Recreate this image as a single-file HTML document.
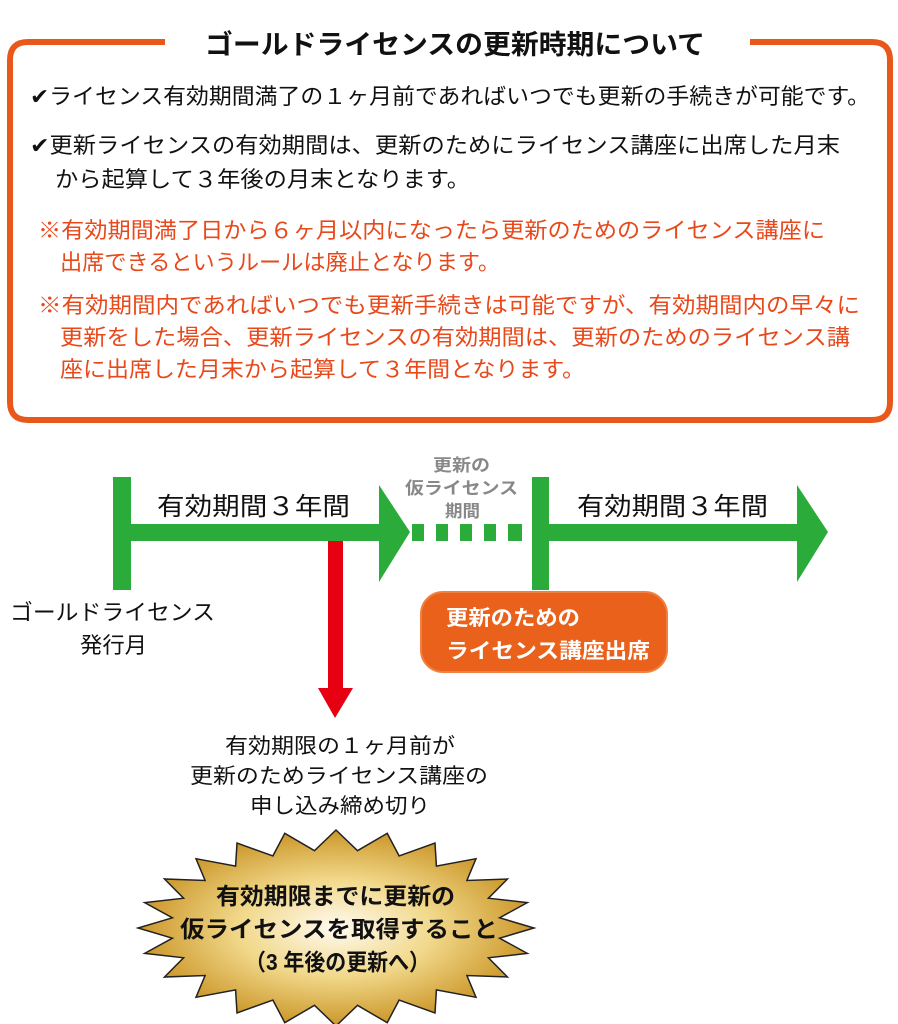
<!DOCTYPE html>
<html><head><meta charset="utf-8"><style>
html,body{margin:0;padding:0;background:#fff}
svg{display:block}
text{font-family:"Liberation Sans","Noto Sans CJK JP",sans-serif}
</style></head><body>
<svg width="898" height="1024" viewBox="0 0 898 1024" xmlns="http://www.w3.org/2000/svg">
<defs>
<radialGradient id="g" cx="50%" cy="50%" r="55%">
<stop offset="0" stop-color="#fffaf0"/>
<stop offset="0.45" stop-color="#f1d88a"/>
<stop offset="1" stop-color="#c48a16"/>
</radialGradient>
</defs>
<path d="M165 42 H28 Q10 42 10 60 V402 Q10 420 28 420 H872 Q890 420 890 402 V60 Q890 42 872 42 H750" fill="none" stroke="#e8581a" stroke-width="6"/>
<text x="205" y="54" font-size="27" font-weight="bold" fill="#111" textLength="500" lengthAdjust="spacingAndGlyphs">ゴールドライセンスの更新時期について</text>
<g font-size="22" fill="#111" lengthAdjust="spacingAndGlyphs">
<text x="30" y="104" textLength="840" lengthAdjust="spacingAndGlyphs">✔ライセンス有効期間満了の１ヶ月前であればいつでも更新の手続きが可能です。</text>
<text x="30" y="153" textLength="810" lengthAdjust="spacingAndGlyphs">✔更新ライセンスの有効期間は、更新のためにライセンス講座に出席した月末</text>
<text x="55" y="187" textLength="415" lengthAdjust="spacingAndGlyphs">から起算して３年後の月末となります。</text>
</g>
<g font-size="22" fill="#e8481a">
<text x="38" y="238" textLength="787" lengthAdjust="spacingAndGlyphs">※有効期間満了日から６ヶ月以内になったら更新のためのライセンス講座に</text>
<text x="60" y="270" textLength="440" lengthAdjust="spacingAndGlyphs">出席できるというルールは廃止となります。</text>
<text x="38" y="313" textLength="822" lengthAdjust="spacingAndGlyphs">※有効期間内であればいつでも更新手続きは可能ですが、有効期間内の早々に</text>
<text x="60" y="345" textLength="790" lengthAdjust="spacingAndGlyphs">更新をした場合、更新ライセンスの有効期間は、更新のためのライセンス講</text>
<text x="60" y="377" textLength="525" lengthAdjust="spacingAndGlyphs">座に出席した月末から起算して３年間となります。</text>
</g>
<g fill="#2aab3a">
<rect x="113" y="477" width="18" height="113"/>
<rect x="131" y="524" width="250" height="17"/>
<polygon points="379,485 410,532 379,582"/>
<rect x="412" y="524" width="12" height="17"/><rect x="436" y="524" width="12" height="17"/><rect x="460" y="524" width="12" height="17"/><rect x="484" y="524" width="12" height="17"/><rect x="508" y="524" width="14" height="17"/>
<rect x="532" y="477" width="17" height="113"/>
<rect x="549" y="524" width="250" height="17"/>
<polygon points="797,485 828,532 797,582"/>
</g>
<text x="157" y="515" font-size="25" fill="#111" textLength="193" lengthAdjust="spacingAndGlyphs">有効期間３年間</text>
<text x="577" y="515" font-size="25" fill="#111" textLength="191" lengthAdjust="spacingAndGlyphs">有効期間３年間</text>
<g font-size="17" font-weight="bold" fill="#888">
<text x="433" y="471" textLength="57" lengthAdjust="spacingAndGlyphs">更新の</text>
<text x="405" y="494" textLength="113" lengthAdjust="spacingAndGlyphs">仮ライセンス</text>
<text x="445" y="517" textLength="35" lengthAdjust="spacingAndGlyphs">期間</text>
</g>
<g font-size="22" fill="#111">
<text x="10" y="620" textLength="205" lengthAdjust="spacingAndGlyphs">ゴールドライセンス</text>
<text x="80" y="653" textLength="67" lengthAdjust="spacingAndGlyphs">発行月</text>
</g>
<rect x="328" y="541" width="15" height="150" fill="#e60012"/>
<polygon points="318,688 353,688 335,718" fill="#e60012"/>
<g font-size="21" fill="#111">
<text x="225" y="753" textLength="230" lengthAdjust="spacingAndGlyphs">有効期限の１ヶ月前が</text>
<text x="190" y="783" textLength="298" lengthAdjust="spacingAndGlyphs">更新のためライセンス講座の</text>
<text x="250" y="813" textLength="180" lengthAdjust="spacingAndGlyphs">申し込み締め切り</text>
</g>
<rect x="421" y="592" width="246" height="80" rx="22" fill="#e9611a" stroke="#f08040" stroke-width="2"/>
<g font-size="21" font-weight="bold" fill="#fff">
<text x="446" y="625" textLength="134" lengthAdjust="spacingAndGlyphs">更新のための</text>
<text x="446" y="658" textLength="204" lengthAdjust="spacingAndGlyphs">ライセンス講座出席</text>
</g>
<polygon id="burst" fill="url(#g)" stroke="#222" stroke-width="1.5" points=""/>
<g font-size="23" font-weight="bold" fill="#111">
<text x="216" y="904" textLength="239" lengthAdjust="spacingAndGlyphs">有効期限までに更新の</text>
<text x="180" y="937" textLength="318" lengthAdjust="spacingAndGlyphs">仮ライセンスを取得すること</text>
<text x="245" y="970" textLength="185" lengthAdjust="spacingAndGlyphs">（3 年後の更新へ）</text>
</g>
</svg>
<script>
(function(){var cx=336,cy=928,n=24,p=[];for(var i=0;i<n*2;i++){var a=Math.PI*i/n-Math.PI/2;var o=i%2==0;var rx=o?198:165,ry=o?98:78;p.push((cx+rx*Math.cos(a)).toFixed(1)+","+(cy+ry*Math.sin(a)).toFixed(1));}document.getElementById("burst").setAttribute("points",p.join(" "));})();
</script>
</body></html>
